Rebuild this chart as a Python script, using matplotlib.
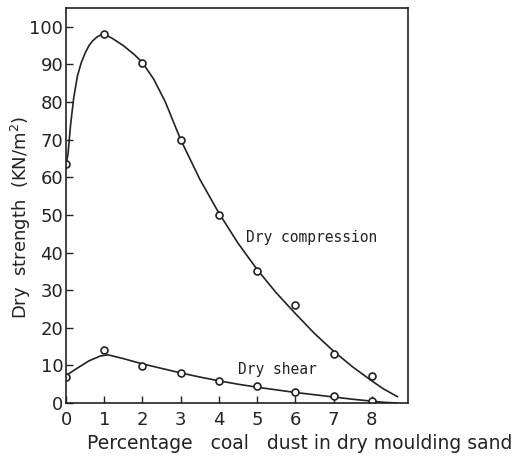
import matplotlib.pyplot as plt

# ----------------- DATA -----------------
coal_pct = [0, 1, 2, 3, 4, 5, 6, 7, 8]
compression_pts = [63.5, 98, 90.5, 70, 50, 35, 26, 13, 7.3]
shear_pts = [7, 14, 9.8, 8, 5.8, 4.4, 3, 1.8, 0.6]

# hand-drawn smooth curves, traced point by point
comp_curve_x = [0, 0.05, 0.12, 0.2, 0.3, 0.4, 0.5, 0.6, 0.7, 0.8, 0.9, 1.0, 1.2, 1.5, 1.8, 2.0,
                2.3, 2.6, 3.0, 3.5, 4.0, 4.5, 5.0, 5.5, 6.0, 6.5, 7.0, 7.5, 8.0, 8.3, 8.67]
comp_curve_y = [63.5, 66, 74, 81, 87, 90.5, 93, 95, 96.3, 97.2, 97.8, 98, 97, 95, 92.5, 90.5,
                86, 80, 70, 59.5, 50.5, 42.5, 35.5, 29.3, 23.8, 18.5, 13.8, 9.6, 5.9, 3.8, 1.7]
shear_curve_x = [0, 0.3, 0.6, 0.9, 1.1, 1.5, 2.0, 2.5, 3.0, 3.5, 4.0, 4.5, 5.0, 5.5, 6.0,
                 6.5, 7.0, 7.5, 8.0, 8.3, 8.67]
shear_curve_y = [7.3, 9.3, 11.2, 12.5, 12.8, 11.8, 10.4, 9.2, 8.0, 6.9, 5.9, 5.0, 4.2, 3.5, 2.8,
                 2.2, 1.6, 1.0, 0.5, 0.2, 0.0]

tick_labels_x = ["0", "1", "2", "3", "4", "5", "6", "7", "8"]
y_ticks = [0, 10, 20, 30, 40, 50, 60, 70, 80, 90, 100]

# ----------------- FIGURE -----------------
fig = plt.figure(figsize=(5.29, 4.62), dpi=100)
ax = fig.add_axes([0.1248, 0.1277, 0.6465, 0.855])

ax.plot(comp_curve_x, comp_curve_y, color="#222222", lw=1.2)
ax.plot(shear_curve_x, shear_curve_y, color="#222222", lw=1.2)
ax.plot(coal_pct, compression_pts, "o", ms=5, mfc="white", mec="#222222", mew=1.2)
ax.plot(coal_pct, shear_pts, "o", ms=5, mfc="white", mec="#222222", mew=1.2)

ax.text(4.7, 43.9, "Dry compression", family="DejaVu Sans Mono", fontsize=10.5,
        va="center", ha="left", color="#222222")
ax.text(4.49, 8.8, "Dry shear", family="DejaVu Sans Mono", fontsize=10.5,
        va="center", ha="left", color="#222222")

ax.set_xlim(0, 8.95)
ax.set_ylim(0, 105)
ax.set_xticks(coal_pct)
ax.set_xticklabels(tick_labels_x)
ax.set_yticks(y_ticks)
ax.tick_params(direction="in", length=5, width=1, labelsize=13, colors="#222222")
ax.tick_params(axis="x", pad=6)
ax.tick_params(axis="y", pad=2)
for s in ax.spines.values():
    s.set_linewidth(1.2)
    s.set_color("#222222")

ax.set_ylabel("Dry  strength  (KN/m$^2$)", fontsize=13, color="#222222")
ax.yaxis.set_label_coords(-0.098, 0.47)
fig.text(0.165, 0.04, "Percentage   coal   dust in dry moulding sand", fontsize=13.5,
         color="#222222", ha="left", va="center")

fig.savefig("out.png", dpi=100)
